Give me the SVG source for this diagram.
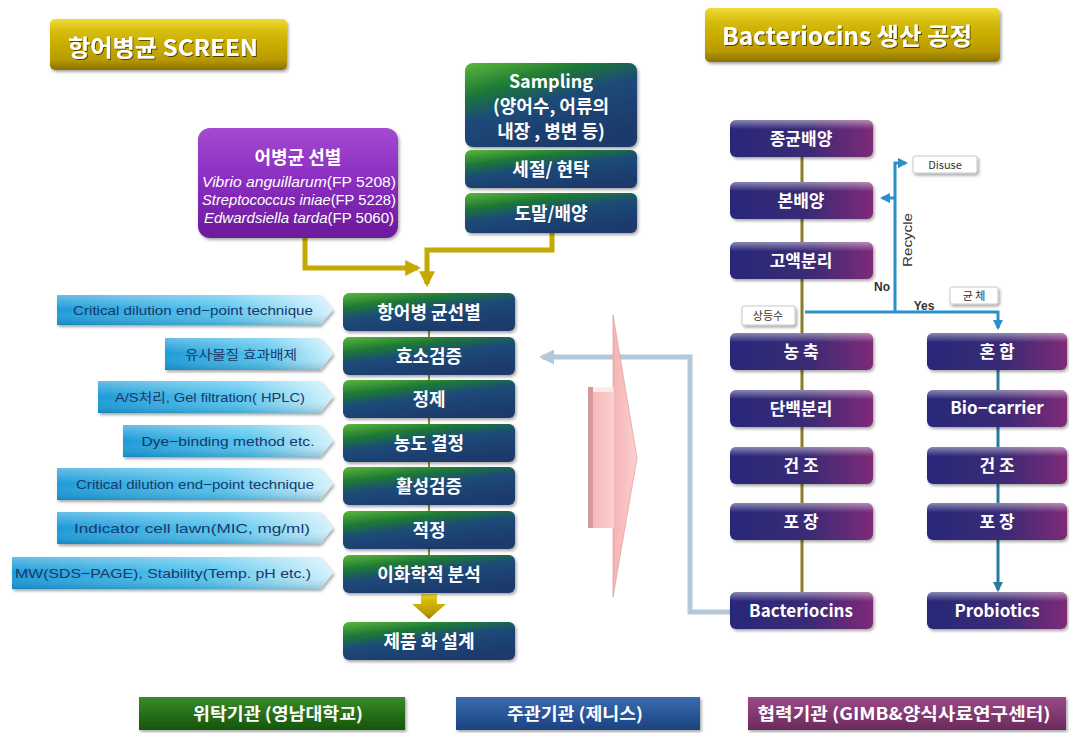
<svg xmlns="http://www.w3.org/2000/svg" width="1069" height="733" viewBox="0 0 1069 733">
<defs>
<linearGradient id="gGold" x1="0" y1="0" x2="0" y2="1"><stop offset="0" stop-color="#efdc3a"/><stop offset="0.25" stop-color="#d6bc08"/><stop offset="0.8" stop-color="#b89a00"/><stop offset="1" stop-color="#8a7000"/></linearGradient>
<linearGradient id="gCenter" x1="0" y1="0" x2="0.55" y2="1"><stop offset="0" stop-color="#5cb83a"/><stop offset="0.3" stop-color="#1f7a35"/><stop offset="0.55" stop-color="#1d4a78"/><stop offset="1" stop-color="#1b3a6c"/></linearGradient>
<linearGradient id="gRight" x1="0" y1="0" x2="1" y2="0"><stop offset="0" stop-color="#28287a"/><stop offset="0.55" stop-color="#3a2a74"/><stop offset="1" stop-color="#7e2a78"/></linearGradient>
<linearGradient id="gHi" x1="0" y1="0" x2="0" y2="1"><stop offset="0" stop-color="#ffffff" stop-opacity="0.45"/><stop offset="0.25" stop-color="#ffffff" stop-opacity="0"/></linearGradient>
<linearGradient id="gCyan" x1="0" y1="0" x2="1" y2="0"><stop offset="0" stop-color="#1a9ad8"/><stop offset="0.6" stop-color="#54c4ee"/><stop offset="1" stop-color="#d4f2fc"/></linearGradient>
<linearGradient id="gCyanV" x1="0" y1="0" x2="0" y2="1"><stop offset="0" stop-color="#ffffff" stop-opacity="0.35"/><stop offset="0.5" stop-color="#ffffff" stop-opacity="0"/><stop offset="1" stop-color="#00507a" stop-opacity="0.25"/></linearGradient>
<linearGradient id="gPurple" x1="0" y1="0" x2="0" y2="1"><stop offset="0" stop-color="#a24ad0"/><stop offset="0.5" stop-color="#8a2cc0"/><stop offset="1" stop-color="#6a1a9a"/></linearGradient>
<linearGradient id="gLegG" x1="0" y1="0" x2="0" y2="1"><stop offset="0" stop-color="#3a8a2a"/><stop offset="1" stop-color="#155508"/></linearGradient>
<linearGradient id="gLegB" x1="0" y1="0" x2="0" y2="1"><stop offset="0" stop-color="#3a6cb0"/><stop offset="1" stop-color="#1b4280"/></linearGradient>
<linearGradient id="gLegP" x1="0" y1="0" x2="0" y2="1"><stop offset="0" stop-color="#9a4a88"/><stop offset="1" stop-color="#6a2a5c"/></linearGradient>
<linearGradient id="gPink" x1="0" y1="0" x2="1" y2="0"><stop offset="0" stop-color="#f4b4b4"/><stop offset="1" stop-color="#fcd0d0"/></linearGradient>
<filter id="sh" x="-10%" y="-10%" width="130%" height="140%"><feDropShadow dx="1.5" dy="2" stdDeviation="1.5" flood-color="#000" flood-opacity="0.35"/></filter>
<filter id="tsh" x="-10%" y="-10%" width="130%" height="140%"><feDropShadow dx="1" dy="1" stdDeviation="0.6" flood-color="#000" flood-opacity="0.6"/></filter>
<marker id="mGold" viewBox="0 0 10 10" refX="8" refY="5" markerWidth="3.2" markerHeight="3.2" orient="auto"><path d="M0,0 L10,5 L0,10 z" fill="#c4aa00"/></marker>
<marker id="mBlue" viewBox="0 0 10 10" refX="8" refY="5" markerWidth="3.5" markerHeight="3.5" orient="auto"><path d="M0,0 L10,5 L0,10 z" fill="#2a90c8"/></marker>
<marker id="mTeal" viewBox="0 0 10 10" refX="8" refY="5" markerWidth="3.5" markerHeight="3.5" orient="auto"><path d="M0,0 L10,5 L0,10 z" fill="#2a7aa0"/></marker>
<marker id="mGrey" viewBox="0 0 10 10" refX="8" refY="5" markerWidth="3" markerHeight="3" orient="auto"><path d="M0,0 L10,5 L0,10 z" fill="#b4c8d8"/></marker>
</defs>
<style>
.k{font-family:"Noto Sans CJK KR","Noto Sans",sans-serif;}
.box{fill:url(#gCenter);filter:url(#sh);}
.rbox{fill:url(#gRight);filter:url(#sh);}
.hi{fill:url(#gHi);}
.bt{font-family:"Noto Sans CJK KR","Noto Sans",sans-serif;font-size:18px;font-weight:bold;fill:#ffffff;text-anchor:middle;}
.rt{font-family:"Noto Sans CJK KR","Noto Sans",sans-serif;font-size:17px;font-weight:bold;fill:#ffffff;text-anchor:middle;}
.ct{font-family:"Liberation Sans","Noto Sans CJK KR",sans-serif;font-size:13px;fill:#1a3868;text-anchor:middle;}
.cy{fill:url(#gCyan);filter:url(#sh);}
.lbl{fill:#ffffff;stroke:#c8c8c8;stroke-width:1;filter:url(#sh);}
.lt{font-family:"Noto Sans CJK KR","Liberation Sans",sans-serif;font-size:11px;fill:#333333;text-anchor:middle;}
.lg{font-family:"Noto Sans CJK KR","Noto Sans",sans-serif;font-size:17px;font-weight:bold;fill:#ffffff;text-anchor:middle;}
.gold{fill:none;stroke:#c4aa00;stroke-width:5;}
.blue{fill:none;stroke:#2a90c8;stroke-width:3;}
</style>
<rect width="1069" height="733" fill="#ffffff"/>

<g id="title-screen">
<rect x="50" y="19" width="237" height="51" rx="5" fill="url(#gGold)" filter="url(#sh)"/>
<text x="163" y="56" class="k" font-size="23" font-weight="bold" fill="#ffffff" text-anchor="middle" filter="url(#tsh)" textLength="190" lengthAdjust="spacingAndGlyphs">항어병균 SCREEN</text>
</g>
<g id="title-bacteriocins">
<rect x="705" y="8" width="295" height="54" rx="5" fill="url(#gGold)" filter="url(#sh)"/>
<text x="847" y="45" class="k" font-size="24" font-weight="bold" fill="#ffffff" text-anchor="middle" filter="url(#tsh)" textLength="250" lengthAdjust="spacingAndGlyphs">Bacteriocins 생산 공정</text>
</g>

<g id="connectors">
<line x1="429" y1="330" x2="429" y2="560" stroke="#8a8a30" stroke-width="2"/>
<path class="gold" d="M305,236 V268 H418" marker-end="url(#mGold)"/>
<path class="gold" d="M552,232 V250 H427 V284" marker-end="url(#mGold)"/>
<path d="M421,594 H437 V604 H446 L429,619 L412,604 H421 Z" fill="url(#gGold)"/>
<line x1="802" y1="155" x2="802" y2="594" stroke="#8c7c28" stroke-width="3"/>
<line x1="998" y1="368" x2="998" y2="590" stroke="#2a7aa0" stroke-width="3" marker-end="url(#mTeal)"/>
<path class="blue" d="M805,312 H998 V328" marker-end="url(#mBlue)"/>
<path class="blue" d="M895,312 V163 H906" marker-end="url(#mBlue)"/>
<path class="blue" d="M895,198 H882" marker-end="url(#mBlue)"/>
<path d="M730,612 H690 V357 H542" fill="none" stroke="#b4c8d8" stroke-width="5" marker-end="url(#mGrey)"/>
</g>

<g id="pink-arrow">
<polygon points="613,315 637,458 613,597" fill="url(#gPink)" stroke="#e8a0a0" stroke-width="0.8"/>
<rect x="588" y="387" width="26" height="141" fill="url(#gPink)"/>
<rect x="588" y="387" width="5" height="141" fill="#d49a9a"/>
<rect x="593" y="387" width="20" height="5" fill="#ffe8e8"/>
</g>

<g id="purple-select">
<rect x="198" y="128" width="200" height="110" rx="12" fill="url(#gPurple)" filter="url(#sh)"/>
<text x="298" y="164" class="k" font-size="18" font-weight="bold" fill="#ffffff" text-anchor="middle">어병균 선별</text>
<text x="299" y="187" font-family="Liberation Sans,sans-serif" font-size="14" fill="#ffffff" text-anchor="middle" textLength="194" lengthAdjust="spacingAndGlyphs"><tspan font-style="italic">Vibrio anguillarum</tspan>(FP 5208)</text>
<text x="299" y="205" font-family="Liberation Sans,sans-serif" font-size="14" fill="#ffffff" text-anchor="middle" textLength="194" lengthAdjust="spacingAndGlyphs"><tspan font-style="italic">Streptococcus iniae</tspan>(FP 5228)</text>
<text x="299" y="223" font-family="Liberation Sans,sans-serif" font-size="14" fill="#ffffff" text-anchor="middle" textLength="190" lengthAdjust="spacingAndGlyphs"><tspan font-style="italic">Edwardsiella tarda</tspan>(FP 5060)</text>
</g>

<g id="sampling">
<rect class="box" x="465" y="63" width="172" height="84" rx="8"/>
<text x="551" y="88" class="bt">Sampling</text>
<text x="551" y="113" class="bt">(양어수, 어류의</text>
<text x="551" y="138" class="bt">내장 , 병변 등)</text>
</g>
<g id="s-cut"><rect class="box" x="465" y="150" width="172" height="38" rx="6"/><text x="551" y="176" class="bt">세절/ 현탁</text></g>
<g id="s-culture"><rect class="box" x="465" y="193" width="172" height="40" rx="6"/><text x="551" y="220" class="bt">도말/배양</text></g>

<g id="c1"><rect class="box" x="343" y="293" width="172" height="38" rx="6"/><text x="429" y="319" class="bt">항어병 균선별</text></g>
<g id="c2"><rect class="box" x="343" y="337" width="172" height="38" rx="6"/><text x="429" y="363" class="bt">효소검증</text></g>
<g id="c3"><rect class="box" x="343" y="380" width="172" height="38" rx="6"/><text x="429" y="406" class="bt">정제</text></g>
<g id="c4"><rect class="box" x="343" y="424" width="172" height="38" rx="6"/><text x="429" y="450" class="bt">농도 결정</text></g>
<g id="c5"><rect class="box" x="343" y="467" width="172" height="38" rx="6"/><text x="429" y="493" class="bt">활성검증</text></g>
<g id="c6"><rect class="box" x="343" y="511" width="172" height="38" rx="6"/><text x="429" y="537" class="bt">적정</text></g>
<g id="c7"><rect class="box" x="343" y="555" width="172" height="38" rx="6"/><text x="429" y="581" class="bt">이화학적 분석</text></g>
<g id="c8"><rect class="box" x="343" y="622" width="172" height="38" rx="6"/><text x="429" y="648" class="bt">제품 화 설계</text></g>

<g id="m1"><path class="cy" d="M57,295 H320 L333,310 L320,325 H57 Z"/><path fill="url(#gCyanV)" d="M57,295 H320 L333,310 L320,325 H57 Z"/><text x="193" y="315" class="ct" textLength="240" lengthAdjust="spacingAndGlyphs">Critical dilution end−point technique</text></g>
<g id="m2"><path class="cy" d="M165,338 H320 L333,354 L320,370 H165 Z"/><path fill="url(#gCyanV)" d="M165,338 H320 L333,354 L320,370 H165 Z"/><text x="241" y="359" class="ct" textLength="112" lengthAdjust="spacingAndGlyphs">유사물질 효과배제</text></g>
<g id="m3"><path class="cy" d="M98,381 H320 L333,397 L320,413 H98 Z"/><path fill="url(#gCyanV)" d="M98,381 H320 L333,397 L320,413 H98 Z"/><text x="210" y="402" class="ct" textLength="190" lengthAdjust="spacingAndGlyphs">A/S처리, Gel filtration( HPLC)</text></g>
<g id="m4"><path class="cy" d="M123,425 H320 L333,441 L320,457 H123 Z"/><path fill="url(#gCyanV)" d="M123,425 H320 L333,441 L320,457 H123 Z"/><text x="228" y="446" class="ct" textLength="173" lengthAdjust="spacingAndGlyphs">Dye−binding method etc.</text></g>
<g id="m5"><path class="cy" d="M57,468 H320 L333,484 L320,500 H57 Z"/><path fill="url(#gCyanV)" d="M57,468 H320 L333,484 L320,500 H57 Z"/><text x="195" y="489" class="ct" textLength="238" lengthAdjust="spacingAndGlyphs">Critical dilution end−point technique</text></g>
<g id="m6"><path class="cy" d="M57,512 H320 L333,528 L320,544 H57 Z"/><path fill="url(#gCyanV)" d="M57,512 H320 L333,528 L320,544 H57 Z"/><text x="192" y="533" class="ct" textLength="236" lengthAdjust="spacingAndGlyphs">Indicator cell lawn(MIC, mg/ml)</text></g>
<g id="m7"><path class="cy" d="M12,557 H320 L333,573 L320,589 H12 Z"/><path fill="url(#gCyanV)" d="M12,557 H320 L333,573 L320,589 H12 Z"/><text x="163" y="578" class="ct" textLength="296" lengthAdjust="spacingAndGlyphs">MW(SDS−PAGE), Stability(Temp. pH etc.)</text></g>

<g id="r1"><rect class="rbox" x="730" y="120" width="143" height="37" rx="6"/><rect class="hi" x="730" y="120" width="143" height="37" rx="6"/><text x="801" y="145" class="rt">종균배양</text></g>
<g id="r2"><rect class="rbox" x="730" y="182" width="143" height="37" rx="6"/><rect class="hi" x="730" y="182" width="143" height="37" rx="6"/><text x="801" y="207" class="rt">본배양</text></g>
<g id="r3"><rect class="rbox" x="730" y="242" width="143" height="37" rx="6"/><rect class="hi" x="730" y="242" width="143" height="37" rx="6"/><text x="801" y="267" class="rt">고액분리</text></g>
<g id="r4"><rect class="rbox" x="730" y="333" width="143" height="37" rx="6"/><rect class="hi" x="730" y="333" width="143" height="37" rx="6"/><text x="801" y="358" class="rt">농 축</text></g>
<g id="r5"><rect class="rbox" x="730" y="390" width="143" height="37" rx="6"/><rect class="hi" x="730" y="390" width="143" height="37" rx="6"/><text x="801" y="415" class="rt">단백분리</text></g>
<g id="r6"><rect class="rbox" x="730" y="447" width="143" height="37" rx="6"/><rect class="hi" x="730" y="447" width="143" height="37" rx="6"/><text x="801" y="472" class="rt">건 조</text></g>
<g id="r7"><rect class="rbox" x="730" y="503" width="143" height="37" rx="6"/><rect class="hi" x="730" y="503" width="143" height="37" rx="6"/><text x="801" y="528" class="rt">포 장</text></g>
<g id="r8"><rect class="rbox" x="730" y="592" width="143" height="37" rx="6"/><rect class="hi" x="730" y="592" width="143" height="37" rx="6"/><text x="801" y="617" class="rt" font-size="18">Bacteriocins</text></g>

<g id="p1"><rect class="rbox" x="927" y="333" width="140" height="37" rx="6"/><rect class="hi" x="927" y="333" width="140" height="37" rx="6"/><text x="997" y="358" class="rt">혼 합</text></g>
<g id="p2"><rect class="rbox" x="927" y="390" width="140" height="37" rx="6"/><rect class="hi" x="927" y="390" width="140" height="37" rx="6"/><text x="997" y="414" class="rt" font-size="16">Bio−carrier</text></g>
<g id="p3"><rect class="rbox" x="927" y="447" width="140" height="37" rx="6"/><rect class="hi" x="927" y="447" width="140" height="37" rx="6"/><text x="997" y="472" class="rt">건 조</text></g>
<g id="p4"><rect class="rbox" x="927" y="503" width="140" height="37" rx="6"/><rect class="hi" x="927" y="503" width="140" height="37" rx="6"/><text x="997" y="528" class="rt">포 장</text></g>
<g id="p5"><rect class="rbox" x="927" y="592" width="140" height="37" rx="6"/><rect class="hi" x="927" y="592" width="140" height="37" rx="6"/><text x="997" y="617" class="rt" font-size="18">Probiotics</text></g>

<g id="lbl-disuse"><rect class="lbl" x="913" y="156" width="64" height="17" rx="2"/><text x="945" y="168.5" class="lt">Disuse</text></g>
<g id="lbl-cells"><rect class="lbl" x="950" y="287" width="48" height="17" rx="2"/><text x="974" y="300" class="lt">균 체</text></g>
<g id="lbl-super"><rect class="lbl" x="742" y="306" width="53" height="19" rx="2"/><text x="768" y="320" class="lt">상등수</text></g>
<g id="branch-labels">
<text x="912" y="240" font-family="Liberation Sans,sans-serif" font-size="13" fill="#333333" text-anchor="middle" transform="rotate(-90 912 240)" textLength="54" lengthAdjust="spacingAndGlyphs">Recycle</text>
<text x="882" y="291" font-family="Liberation Sans,sans-serif" font-size="12" font-weight="bold" fill="#333333" text-anchor="middle">No</text>
<text x="924" y="310" font-family="Liberation Sans,sans-serif" font-size="12" font-weight="bold" fill="#333333" text-anchor="middle">Yes</text>
</g>

<g id="legend-green"><rect x="139" y="697" width="266" height="33" fill="url(#gLegG)" filter="url(#sh)"/><text x="278" y="720" class="lg" textLength="170" lengthAdjust="spacingAndGlyphs">위탁기관 (영남대학교)</text></g>
<g id="legend-blue"><rect x="456" y="697" width="244" height="33" fill="url(#gLegB)" filter="url(#sh)"/><text x="575" y="720" class="lg" textLength="136" lengthAdjust="spacingAndGlyphs">주관기관 (제니스)</text></g>
<g id="legend-purple"><rect x="748" y="697" width="318" height="33" fill="url(#gLegP)" filter="url(#sh)"/><text x="904" y="720" class="lg" textLength="293" lengthAdjust="spacingAndGlyphs">협력기관 (GIMB&amp;양식사료연구센터)</text></g>
</svg>
